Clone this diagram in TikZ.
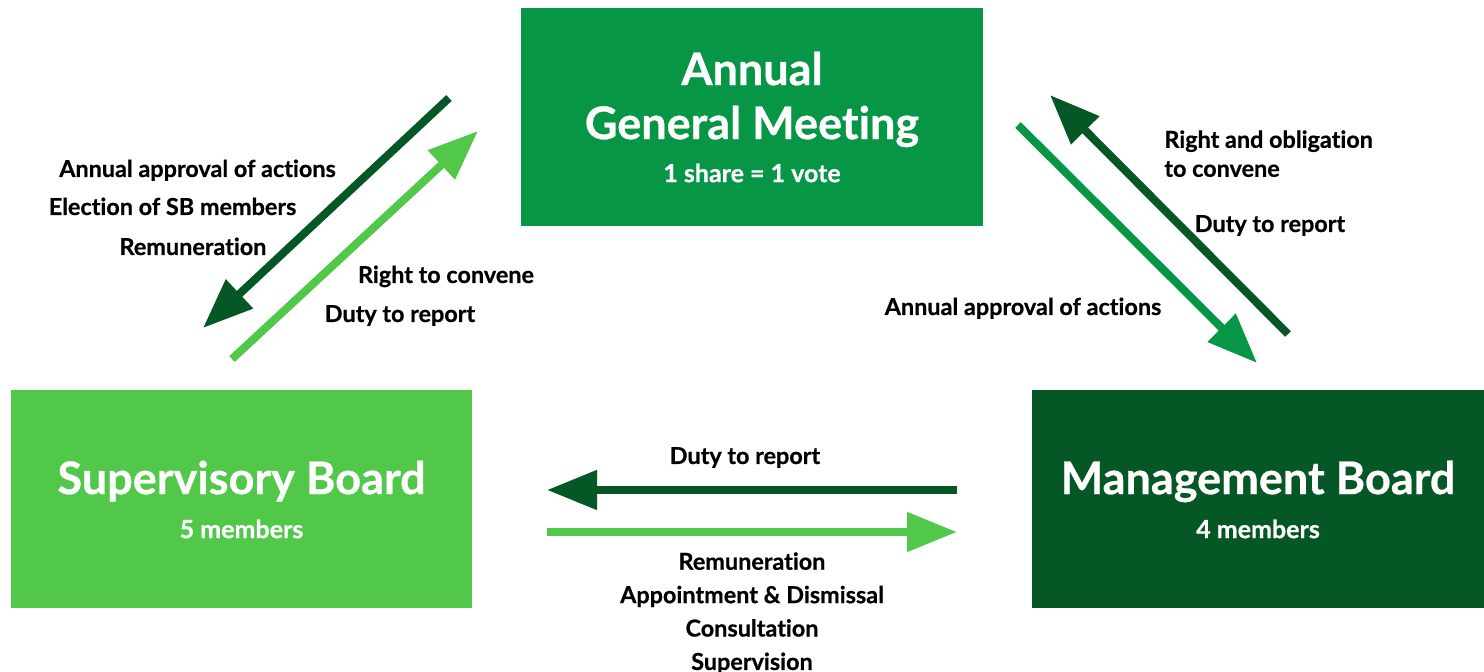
\documentclass[tikz,border=0pt]{standalone}
\usepackage{fontspec}
\setmainfont{Lato}[Ligatures={NoCommon}, Contextuals={NoAlternate}, BoldFeatures={FakeBold=0.6}]
\usetikzlibrary{arrows.meta}
\definecolor{agmgreen}{RGB}{6, 150, 69}
\definecolor{sbgreen}{RGB}{82, 200, 74}
\definecolor{mbgreen}{RGB}{5, 87, 38}

\begin{document}
\begin{tikzpicture}[x=0.5pt, y=-0.5pt,
    box/.style={rectangle, text=white, align=center, inner sep=0pt, minimum height=109pt},
    titlefont/.style={font=\fontsize{22.5}{27}\selectfont\bfseries},
    tag/.style={font=\fontsize{11.7}{14.5}\selectfont\bfseries, inner sep=0pt, anchor=base},
    link/.style={line width=4pt, -{Triangle[length=25pt, width=19pt]}}]
        \useasboundingbox (0,0) rectangle (1484,672);

        % Boxes
        \node[box, fill=agmgreen, minimum width=231pt, titlefont] (agm) at (752,117)
            {Annual\\General Meeting\\[-5.5pt]{\fontsize{12.5}{15}\selectfont 1 share = 1 vote}};
        \node[box, fill=sbgreen, minimum width=230.5pt, titlefont] (sb) at (241.5,499.5)
            {Supervisory Board\\[-5pt]{\fontsize{12.5}{15}\selectfont 5 members}};
        \node[box, fill=mbgreen, minimum width=226pt, titlefont] (mb) at (1258,499.5)
            {Management Board\\[-5pt]{\fontsize{12.5}{15}\selectfont 4 members}};

        % Arrow end points
        \coordinate (elect-a) at (449,98);
        \coordinate (elect-b) at (203,328);
        \coordinate (convene-a) at (232,359);
        \coordinate (convene-b) at (478,131);
        \coordinate (oblig-a) at (1288,334);
        \coordinate (oblig-b) at (1050,95);
        \coordinate (approve-a) at (1018,125);
        \coordinate (approve-b) at (1257,363);
        \coordinate (report-a) at (957,490);
        \coordinate (report-b) at (547,490);
        \coordinate (appoint-a) at (547,532);
        \coordinate (appoint-b) at (957,532);

        % Arrows
        \draw[link, mbgreen] (elect-a) -- (elect-b);
        \draw[link, sbgreen] (convene-a) -- (convene-b);
        \draw[link, mbgreen] (oblig-a) -- (oblig-b);
        \draw[link, agmgreen] (approve-a) -- (approve-b);
        \draw[link, mbgreen] (report-a) -- (report-b);
        \draw[link, sbgreen] (appoint-a) -- (appoint-b);

        % Labels
        \node[tag] (l1) at (197.5,177) {Annual approval of actions};
        \node[tag] (l2) at (172.5,215) {Election of SB members};
        \node[tag] (l3) at (193,255) {Remuneration};
        \node[tag] (l4) at (446,283) {Right to convene};
        \node[tag] (l5) at (400,322) {Duty to report};
        \node[tag, align=left, anchor=north west] (r1) at (1164,130) {Right and obligation\\to convene};
        \node[tag] (r2) at (1270,232) {Duty to report};
        \node[tag] (r3) at (1023,315) {Annual approval of actions};
        \node[tag] (b1) at (745,464) {Duty to report};
        \node[tag, align=center, anchor=north, font=\fontsize{11.7}{16.7}\selectfont\bfseries] (b2) at (752,552)
            {Remuneration\\Appointment \& Dismissal\\Consultation\\Supervision};
\end{tikzpicture}
\end{document}
